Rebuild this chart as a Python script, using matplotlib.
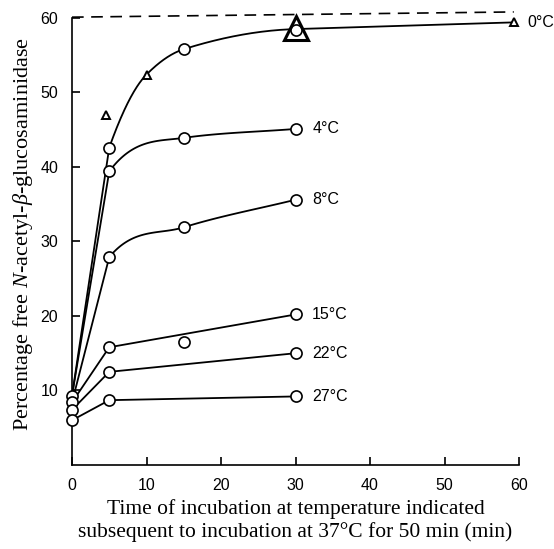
import numpy as np
import matplotlib
matplotlib.use('Agg')
import matplotlib.pyplot as plt

# ---- data ----
# 0 degC series (circles + triangles on one smooth curve)
x_0C = [0, 5, 10, 15, 30, 59.3]
y_0C = [9.3, 42.6, 52.4, 55.8, 58.5, 59.4]
circ_x_0C = [5, 15, 30]
circ_y_0C = [42.6, 55.8, 58.4]
tri_x_0C = [4.5, 10, 59.3]
tri_y_0C = [47.0, 52.4, 59.4]
big_tri = (30, 58.7)

x_4C = [0, 5, 15, 30]
y_4C = [9.3, 39.4, 43.9, 45.1]

x_8C = [0, 5, 15, 30]
y_8C = [8.4, 27.9, 31.9, 35.6]

x_15C = [0, 5, 30]
y_15C = [8.4, 15.8, 20.2]
extra_15C = (15, 16.5)

x_22C = [0, 5, 30]
y_22C = [7.4, 12.5, 15.0]

x_27C = [0, 5, 30]
y_27C = [6.0, 8.7, 9.2]

start_circles = [9.3, 8.4, 7.4, 6.0]

dash_x = [0, 59.3]
dash_y = [60.1, 60.8]

labels = ['0°C', '4°C', '8°C', '15°C', '22°C', '27°C']


def hermite(xs, ys, d_first=None, d_last=None, n=60):
    # monotone cubic (Fritsch-Carlson) through the points, ends may be overridden
    xs = np.asarray(xs, float)
    ys = np.asarray(ys, float)
    h = np.diff(xs)
    delta = np.diff(ys) / h
    d = np.zeros_like(ys)
    for k in range(1, len(xs) - 1):
        if delta[k - 1] * delta[k] > 0:
            w1 = 2 * h[k] + h[k - 1]
            w2 = h[k] + 2 * h[k - 1]
            d[k] = (w1 + w2) / (w1 / delta[k - 1] + w2 / delta[k])
    d[0] = delta[0] if d_first is None else d_first
    d[-1] = delta[-1] if d_last is None else d_last
    px, py = [], []
    for k in range(len(xs) - 1):
        t = np.linspace(0, 1, n)
        h00 = 2 * t**3 - 3 * t**2 + 1
        h10 = t**3 - 2 * t**2 + t
        h01 = -2 * t**3 + 3 * t**2
        h11 = t**3 - t**2
        px.append(xs[k] + t * h[k])
        py.append(h00 * ys[k] + h10 * h[k] * d[k] + h01 * ys[k + 1] + h11 * h[k] * d[k + 1])
    return np.concatenate(px), np.concatenate(py)


plt.rcParams['font.family'] = ['Liberation Sans', 'DejaVu Sans']
plt.rcParams['mathtext.fontset'] = 'custom'
plt.rcParams['mathtext.rm'] = 'Liberation Serif'
plt.rcParams['mathtext.it'] = 'Liberation Serif:italic'

fig = plt.figure(figsize=(5.54, 5.49), dpi=100)
ax = fig.add_axes([72 / 554, 84 / 549, 447 / 554, 462 / 549])
ax.set_xlim(0, 60)
ax.set_ylim(0, 62)

lw = 1.3
circ = dict(marker='o', ms=8, mfc='white', mec='black', mew=1.2, ls='none', zorder=4)

# 0 degC: straight rise, smooth bend, straight tail
ax.plot(x_0C[:2], y_0C[:2], color='black', lw=lw)
cx, cy = hermite(x_0C[1:5], y_0C[1:5], d_first=2.8, d_last=0.03)
ax.plot(cx, cy, color='black', lw=lw)
ax.plot(x_0C[4:], y_0C[4:], color='black', lw=lw)

# 4 and 8 degC: straight rise, sharp bend after 5 min
for xs, ys in [(x_4C, y_4C), (x_8C, y_8C)]:
    ax.plot(xs[:2], ys[:2], color='black', lw=lw)
    s0 = (ys[2] - ys[1]) / (xs[2] - xs[1])
    s1 = (ys[3] - ys[2]) / (xs[3] - xs[2])
    cx, cy = hermite(xs[1:], ys[1:], d_first=3 * s0, d_last=s1)
    ax.plot(cx, cy, color='black', lw=lw)
    ax.plot(xs[1:], ys[1:], **circ)

# straight series
for xs, ys in [(x_15C, y_15C), (x_22C, y_22C), (x_27C, y_27C)]:
    ax.plot(xs, ys, color='black', lw=lw)
    ax.plot(xs[1:], ys[1:], **circ)

ax.plot([extra_15C[0]], [extra_15C[1]], **circ)
ax.plot([0] * len(start_circles), start_circles, clip_on=False, **circ)
ax.plot(circ_x_0C, circ_y_0C, **circ)
ax.plot(tri_x_0C, tri_y_0C, marker='^', ms=6, mfc='white', mec='black',
        mew=1.4, ls='none', zorder=5, clip_on=False)
ax.plot([big_tri[0]], [big_tri[1]], marker='^', ms=17, mfc='none', mec='black',
        mew=2.2, ls='none', zorder=5)

ax.plot(dash_x, dash_y, color='black', lw=1.2, dashes=(7, 4.5), clip_on=False)

# curve labels
ends = [(x_0C[-1], y_0C[-1]), (x_4C[-1], y_4C[-1]), (x_8C[-1], y_8C[-1]),
        (x_15C[-1], y_15C[-1]), (x_22C[-1], y_22C[-1]), (x_27C[-1], y_27C[-1])]
for lab, (ex, ey) in zip(labels, ends):
    off = 10 if lab == '0°C' else 12
    ax.annotate(lab, (ex, ey), xytext=(off, 0), textcoords='offset points',
                va='center', ha='left', fontsize=11.5, annotation_clip=False)

# axes styling
for s in ['top', 'right']:
    ax.spines[s].set_visible(False)
ax.spines['left'].set_bounds(0, 60)
ax.spines['left'].set_linewidth(1.2)
ax.spines['bottom'].set_linewidth(1.2)
ax.set_xticks([0, 10, 20, 30, 40, 50, 60])
ax.set_yticks([10, 20, 30, 40, 50, 60])
ax.tick_params(direction='in', length=6, width=1.2, labelsize=11.5, pad=9)
ax.tick_params(axis='y', pad=10)

ax.set_ylabel(r'Percentage free $N$-acetyl-$\beta$-glucosaminidase',
              family='Liberation Serif', fontsize=16, labelpad=4)
ax.set_xlabel('Time of incubation at temperature indicated\n'
              'subsequent to incubation at 37°C for 50 min (min)',
              family='Liberation Serif', fontsize=15.5, linespacing=1.2, labelpad=5)

fig.savefig('out.png', dpi=100)
